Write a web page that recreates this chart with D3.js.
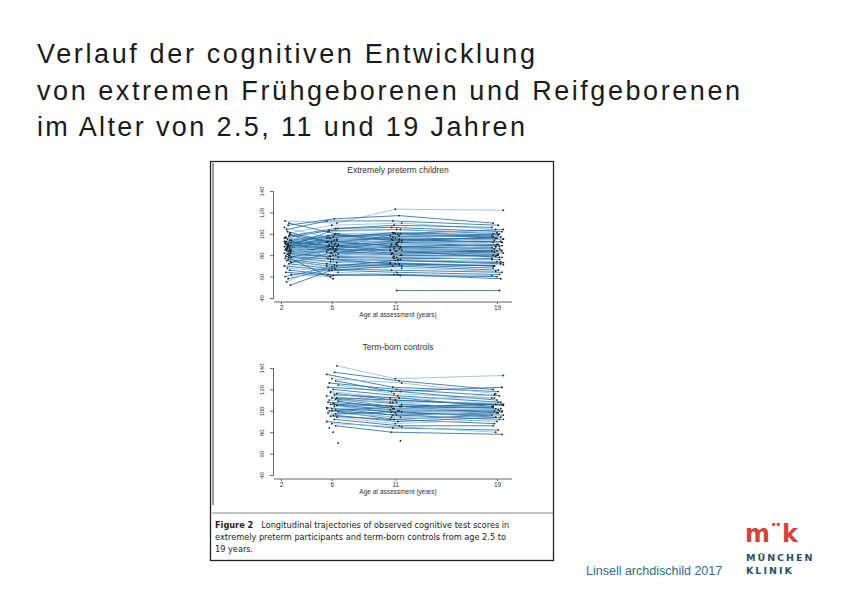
<!DOCTYPE html>
<html><head><meta charset="utf-8">
<script src="https://cdn.jsdelivr.net/npm/d3@7"></script>
<style>body{margin:0;background:#fff}svg{display:block}</style>
</head><body>
<svg id="c" width="842" height="595"></svg>
<script>
const titleLines = ["Verlauf  der cognitiven Entwicklung","von extremen Frühgeborenen und Reifgeborenen","im Alter von 2.5, 11 und 19 Jahren"];
const titleWidths = [498, 703, 488];
const ages = [2.5, 6, 11, 19];
const xTicks = [2, 6, 11, 19];
const yTicks = [40, 60, 80, 100, 120, 140];
const ageJitter = [-0.3, 0.1, -0.1, 0.4, 0.2, -0.4, 0.0, 0.3, -0.2, 0.5];
// preterm trajectories: scores at 2.5, 6, 11, 19
const preterm = [
 [112,110,123,122],[108,114,117,110],[104,112,112,108],[101,108,110,104],[98,105,106,102],
 [96,103,104,100],[95,100,101,98],[94,98,100,96],[93,97,99,97],[92,96,98,94],
 [91,95,96,95],[90,94,95,92],[90,92,94,90],[89,93,92,88],[88,91,90,89],
 [88,90,91,86],[87,89,88,87],[86,88,87,84],[86,87,89,85],[85,86,85,83],
 [85,85,84,82],[84,84,86,80],[84,83,82,81],[83,82,80,79],[82,80,81,78],
 [82,79,78,76],[81,78,77,77],[80,77,76,74],[79,76,75,72],[78,74,73,70],
 [77,73,72,71],[76,71,71,68],[75,70,70,66],[74,69,68,65],[72,67,66,64],
 [70,66,64,62],[68,64,62,61],[66,62,61,60],[64,61,62,58],[62,60,null,null],
 [60,70,75,73],[58,68,72,70],[55,72,78,80],[52,66,70,null],[110,100,95,92],
 [106,96,90,88],[102,90,86,84],[100,85,80,80],[97,80,76,74],[94,76,72,70],
 [92,88,100,104],[89,90,98,100],[86,92,97,99],[83,88,94,96],[80,84,90,92],
 [null,null,47,47],[88,105,108,106],[84,102,104,101],[79,58,null,null],[73,82,88,86],
 [96,94,90,95],[91,99,93,97],[87,96,101,99],[82,91,85,88],[78,86,82,84],
 [93,89,84,78],[86,81,79,76],[99,93,88,90],[90,86,92,93],[85,79,84,86]
];
// term-born controls: scores at 6, 11, 19 (no 2.5)
const controls = [
 [null,142,130,133],[null,136,128,120],[null,134,122,118],[null,130,126,116],[null,128,118,122],
 [null,126,120,114],[null,124,116,112],[null,122,118,110],[null,120,114,108],[null,118,112,112],
 [null,116,110,106],[null,115,112,104],[null,114,108,108],[null,112,106,102],[null,111,104,106],
 [null,110,108,100],[null,109,102,104],[null,108,104,98],[null,107,100,102],[null,106,101,100],
 [null,105,98,96],[null,104,100,104],[null,103,96,98],[null,102,99,94],[null,101,94,100],
 [null,100,96,92],[null,99,92,96],[null,98,94,90],[null,96,90,94],[null,95,92,88],
 [null,94,88,92],[null,92,86,86],[null,90,84,82],[null,88,85,80],[null,86,80,78],
 [null,84,null,null],[null,70,null,null],[null,null,72,null],[null,80,null,null],[null,117,108,115],
 [null,112,110,105],[null,106,104,103],[null,102,102,101],[null,100,104,106],[null,97,99,99]
];
const svg = d3.select("#c");
svg.append("g").selectAll("text").data(titleLines).join("text")
 .attr("x",37).attr("y",(d,i)=>63+i*36.5).attr("font-family","Liberation Sans, Arial, sans-serif")
 .attr("font-size",27).attr("fill","#1a1a1a")
 .attr("textLength",(d,i)=>titleWidths[i]).attr("lengthAdjust","spacing").text(d=>d);
svg.append("rect").attr("x",210.5).attr("y",161.5).attr("width",343).attr("height",399)
 .attr("fill","#fff").attr("stroke","#222").attr("stroke-width",1.3);
svg.append("line").attr("x1",213).attr("x2",213).attr("y1",163).attr("y2",505).attr("stroke","#999").attr("stroke-width",2);
svg.append("line").attr("x1",212).attr("x2",553).attr("y1",513).attr("y2",513).attr("stroke","#888").attr("stroke-width",1);

function panel(data, top, title){
 const x = d3.scaleLinear().domain([2,19]).range([281,497]);
 const y = d3.scaleLinear().domain([40,140]).range([top+138,top+31]);
 const g = svg.append("g");
 g.append("text").attr("x",398).attr("y",top+13).attr("text-anchor","middle").attr("font-family","Liberation Sans, Arial").attr("font-size",8.5).attr("fill","#333").text(title);
 const ya = g.append("g").attr("transform","translate(273,0)")
   .call(d3.axisLeft(y).tickValues(yTicks).tickSize(3));
 ya.selectAll(".tick text").attr("transform","rotate(-90)").attr("x",0).attr("y",-9).attr("dy","0").attr("text-anchor","middle").attr("font-size",6);
 const xa = g.append("g").attr("transform",`translate(0,${top+142})`)
   .call(d3.axisBottom(x).tickValues(xTicks).tickSize(2).tickPadding(1));
 xa.select(".domain").attr("d","M274,0H512");
 xa.selectAll("text").attr("font-size",6.5);
 [ya,xa].forEach(a=>{a.selectAll("path,line").attr("stroke","#666");a.selectAll("text").attr("fill","#333").attr("font-family","Liberation Sans, Arial");});
 g.append("text").attr("x",398).attr("y",top+157).attr("text-anchor","middle").attr("font-family","Liberation Sans, Arial").attr("font-size",6.5).attr("fill","#333").text("Age at assessment (years)");
 const pts = data.map((r,i)=>r.map((v,k)=>v==null?null:{a:ages[k]+ageJitter[(i+k*3)%ageJitter.length]*(k==0?0.6:1),v}).filter(p=>p));
 const line = d3.line().x(p=>x(p.a)).y(p=>y(p.v));
 g.append("g").selectAll("path").data(pts).join("path").attr("d",line)
  .attr("fill","none").attr("stroke",(d,i)=>i%3?"#1f6aa3":"#8fb9d8").attr("stroke-width",0.9).attr("opacity",0.9);
 g.append("g").selectAll("circle").data(pts.flat()).join("circle")
  .attr("cx",p=>x(p.a)).attr("cy",p=>y(p.v)).attr("r",0.9).attr("fill","#222");
}
panel(preterm,160,"Extremely preterm children");
panel(controls,337,"Term-born controls");

const cap = svg.append("text").attr("font-family","DejaVu Sans, sans-serif").attr("font-size",8.2).attr("fill","#222");
cap.append("tspan").attr("x",215).attr("y",528).attr("font-weight","bold").text("Figure 2");
cap.append("tspan").attr("dx",8).text("Longitudinal trajectories of observed cognitive test scores in");
cap.append("tspan").attr("x",215).attr("y",540).text("extremely preterm participants and term-born controls from age 2.5 to");
cap.append("tspan").attr("x",215).attr("y",552).text("19 years.");

svg.append("text").attr("x",586).attr("y",575).attr("font-family","Liberation Sans, Arial").attr("font-size",12.5).attr("fill","#2a6f8a").text("Linsell  archdischild 2017");
svg.append("text").attr("x",745).attr("y",542).attr("font-family","DejaVu Sans, sans-serif").attr("font-weight","bold").attr("font-size",24).attr("fill","#d2453a").text("m\u00A8k");
svg.append("text").attr("x",746).attr("y",561).attr("font-family","DejaVu Sans, sans-serif").attr("font-weight","bold").attr("font-size",9.5).attr("letter-spacing",2).attr("fill","#2a4f6a").text("MÜNCHEN");
svg.append("text").attr("x",746).attr("y",574).attr("font-family","DejaVu Sans, sans-serif").attr("font-weight","bold").attr("font-size",9.5).attr("letter-spacing",2).attr("fill","#2a4f6a").text("KLINIK");
</script>
</body></html>
